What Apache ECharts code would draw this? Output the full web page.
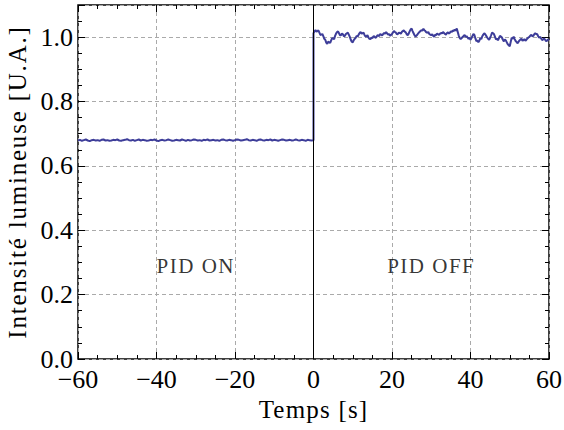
<!DOCTYPE html>
<html>
<head>
<meta charset="utf-8">
<script src="https://cdn.jsdelivr.net/npm/echarts@6/dist/echarts.min.js"></script>
<style>
html,body{margin:0;padding:0;background:#fff}
#c{width:564px;height:430px}
#c svg text{font-family:"Liberation Serif",serif !important}
</style>
</head>
<body>
<div id="c"></div>
<script>
// Data
const pidOnStep = 0.5;
const pidOnStart = -60;
const pidOnValues = [
0.679,0.681,0.678,0.680,0.682,0.679,0.677,0.680,0.681,0.679,
0.680,0.678,0.681,0.682,0.679,0.680,0.678,0.679,0.681,0.680,
0.682,0.679,0.678,0.680,0.681,0.683,0.680,0.679,0.681,0.678,
0.680,0.682,0.679,0.681,0.680,0.678,0.679,0.681,0.680,0.682,
0.679,0.677,0.680,0.681,0.679,0.680,0.682,0.680,0.678,0.679,
0.681,0.680,0.679,0.682,0.680,0.678,0.681,0.679,0.680,0.682,
0.681,0.679,0.680,0.678,0.681,0.680,0.682,0.679,0.680,0.681,
0.679,0.680,0.678,0.681,0.682,0.680,0.679,0.681,0.680,0.678,
0.680,0.682,0.681,0.679,0.680,0.681,0.683,0.680,0.679,0.681,
0.680,0.678,0.681,0.682,0.680,0.679,0.681,0.680,0.682,0.679,
0.681,0.680,0.678,0.680,0.682,0.681,0.679,0.680,0.681,0.679,
0.680,0.682,0.680,0.679,0.681,0.680,0.678,0.681,0.680,0.679,
0.680
];
const pidOffStep = 0.25;
const pidOffStart = 0;
const pidOffValues = [
1.012,1.018,1.022,1.017,1.019,1.021,1.014,1.007,1.008,1.010,
1.003,0.995,0.992,0.983,0.979,0.986,0.984,0.982,0.990,0.997,
0.996,0.994,1.004,1.011,1.016,1.018,1.012,1.006,1.006,1.011,
1.009,1.003,1.004,1.010,1.012,1.014,1.008,1.001,0.992,0.986,
0.984,0.991,0.995,0.998,1.004,1.002,1.008,1.013,1.016,1.011,
1.012,1.014,1.007,1.002,1.003,1.006,0.999,0.995,0.994,0.999,
0.997,1.002,1.003,0.998,1.000,1.005,1.006,1.003,1.010,1.008,
1.005,1.010,1.013,1.011,1.016,1.012,1.008,1.010,1.004,1.007,
1.010,1.015,1.019,1.016,1.014,1.009,1.010,1.014,1.013,1.011,
1.016,1.019,1.021,1.017,1.015,1.009,1.006,1.011,1.018,1.024,
1.027,1.019,1.012,1.006,1.002,1.005,1.009,1.013,1.016,1.019,
1.022,1.020,1.026,1.022,1.019,1.015,1.014,1.016,1.010,1.008,
1.006,1.009,1.004,1.001,1.008,1.006,1.011,1.009,1.007,1.011,
1.013,1.012,1.016,1.013,1.010,1.008,1.013,1.015,1.011,1.014,
1.018,1.016,1.021,1.019,1.024,1.021,1.027,1.016,1.005,0.998,
0.994,0.997,1.001,1.004,1.007,1.001,1.003,0.999,0.995,0.998,
0.992,0.997,1.004,1.010,1.007,0.996,0.988,0.990,0.984,0.989,
0.997,0.994,1.003,1.008,1.012,1.009,1.004,0.999,0.995,0.992,
0.998,1.006,1.014,1.012,1.009,1.001,0.993,0.996,0.990,0.997,
1.004,1.002,0.999,0.992,0.987,0.993,0.990,0.984,0.978,0.975,
0.972,0.986,0.998,0.995,1.002,0.994,0.988,0.985,0.981,0.986,
0.990,0.993,0.995,0.989,0.991,0.994,0.989,0.992,0.996,0.999,
1.001,1.005,1.007,1.003,1.004,1.009,1.012,1.010,1.009,1.003,
0.998,1.001,0.996,0.991,0.993,0.996,0.992,0.988,0.989,0.993,
0.990
];
const annotations = [
  {t: -30, v: 0.29, text: 'PID ON'},
  {t: 30, v: 0.29, text: 'PID OFF'}
];
const xTicks = [-60, -40, -20, 0, 20, 40, 60];
const yTicks = [0.0, 0.2, 0.4, 0.6, 0.8, 1.0];
const xName = 'Temps [s]';
const yName = 'Intensité lumineuse [U.A.]';

const seriesData = [];
pidOnValues.forEach((v, i) => seriesData.push([pidOnStart + i * pidOnStep, v]));
pidOffValues.forEach((v, i) => seriesData.push([pidOffStart + i * pidOffStep, v]));

const FONT = 'Liberation Serif';
const chart = echarts.init(document.getElementById('c'), null, {renderer: 'svg'});
const tickCommon = {show: true, inside: true, length: 7, lineStyle: {color: '#000', width: 1}};
const minorCommon = {show: true, splitNumber: 4, length: 4, lineStyle: {color: '#000', width: 1}};
const gridLine = {show: true, lineStyle: {color: '#aaa', type: [4, 3], width: 1}};
chart.setOption({
  animation: false,
  backgroundColor: '#fff',
  grid: {left: 78, right: 15, top: 5, bottom: 71, show: true, borderColor: '#000', borderWidth: 1.5,
    backgroundColor: 'transparent', outerBoundsMode: 'none', containLabel: false},
  xAxis: [{
    type: 'value', min: -60, max: 60, interval: 20,
    name: xName, nameLocation: 'middle', nameGap: 38,
    nameTextStyle: {fontFamily: FONT, fontSize: 25, color: '#000'},
    axisLine: {show: false, onZero: false},
    axisTick: tickCommon, minorTick: minorCommon,
    splitLine: gridLine,
    axisLabel: {fontFamily: FONT, fontSize: 26, color: '#000', margin: 12, lineHeight: 16,
      formatter: v => xTicks.includes(v) ? (v < 0 ? '\u2212' + Math.abs(v) : String(v)) : ''}
  }, {
    type: 'value', min: -60, max: 60, interval: 20, position: 'top',
    axisLine: {show: false, onZero: false}, axisTick: tickCommon, minorTick: minorCommon,
    splitLine: {show: false}, axisLabel: {show: false}
  }],
  yAxis: [{
    type: 'value', min: 0, max: 1.1, interval: 0.2,
    name: yName, nameLocation: 'middle', nameGap: 42, nameRotate: 90,
    nameTextStyle: {fontFamily: FONT, fontSize: 25, color: '#000'},
    axisLine: {show: false, onZero: false},
    axisTick: tickCommon, minorTick: minorCommon,
    splitLine: gridLine,
    axisLabel: {fontFamily: FONT, fontSize: 26, color: '#000', margin: 5, lineHeight: 16,
      formatter: v => yTicks.some(t => Math.abs(t - v) < 1e-9) ? v.toFixed(1) : ''}
  }, {
    type: 'value', min: 0, max: 1.1, interval: 0.2, position: 'right',
    axisLine: {show: false, onZero: false}, axisTick: tickCommon, minorTick: minorCommon,
    splitLine: {show: false}, axisLabel: {show: false}
  }],
  series: [{
    type: 'line', data: seriesData, showSymbol: false, symbol: 'none',
    lineStyle: {color: '#3d3d99', width: 2}, z: 3,
    markLine: {silent: true, symbol: 'none', label: {show: false},
      lineStyle: {color: '#000', width: 1, type: 'solid'},
      data: [{xAxis: 0}], z: 4}
  }, {
    type: 'scatter', symbolSize: 0,
    data: annotations.map(a => [a.t, a.v, a.text]),
    label: {show: true, position: 'inside', formatter: p => p.data[2],
      fontFamily: FONT, fontSize: 21, color: '#000'}
  }]
});
// Mimic the wide letter spacing of the original typesetting
const spacing = {};
spacing[yName] = '1.8px';
spacing[xName] = '1.2px';
annotations.forEach(a => { spacing[a.text] = '1.5px'; });
document.querySelectorAll('#c svg text').forEach(el => {
  const s = spacing[el.textContent];
  if (s) el.style.letterSpacing = s;
});
</script>
</body>
</html>
